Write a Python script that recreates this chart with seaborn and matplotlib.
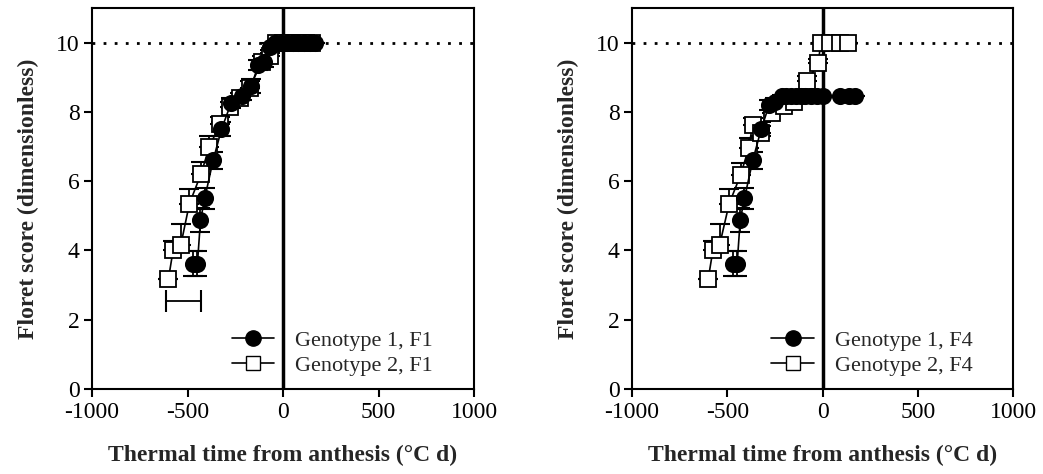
import numpy as np
import pandas as pd
import matplotlib
matplotlib.use("Agg")
import matplotlib.pyplot as plt
from matplotlib.lines import Line2D
import seaborn as sns

# ---------------- data ----------------
# Left panel, Genotype 1 (F1)
g1_f1_x = [-470, -448, -432, -410, -366, -322, -272, -215, -165, -130, -100, -68,
           -40, -10, 20, 50, 80, 110, 140, 165]
g1_f1_y = [3.62, 3.62, 4.87, 5.5, 6.6, 7.5, 8.25, 8.45, 8.75, 9.35, 9.45, 9.88,
           10, 10, 10, 10, 10, 10, 10, 10]
g1_f1_err = [0.35, 0.35, 0.35, 0.3, 0.25, 0.2, 0.15, 0.1, 0.2, 0.15, 0.15, 0.1,
             0, 0, 0, 0, 0, 0, 0, 0]
# Left panel, Genotype 2 (F1)
g2_f1_x = [-600, -575, -535, -490, -430, -385, -330, -280, -225, -175, -110, -70,
           -35, 0, 30, 60, 90, 120, 150]
g2_f1_y = [3.17, 4.02, 4.16, 5.35, 6.2, 7.0, 7.65, 8.15, 8.4, 8.7, 9.45, 9.6,
           10, 10, 10, 10, 10, 10, 10]
g2_f1_err = [0, 0.25, 0.6, 0.42, 0.35, 0.3, 0.2, 0.15, 0.15, 0.2, 0.15, 0.1,
             0, 0, 0, 0, 0, 0, 0]
# Representative horizontal error bar (thermal time) in left panel
hbar_x = [-521]
hbar_y = [2.55]
hbar_err = [90]

# Right panel, Genotype 1 (F4)
g1_f4_x = [-470, -448, -432, -410, -366, -322, -280, -250, -215, -190, -165, -140,
           -115, -90, -60, -30, 0, 90, 140, 170]
g1_f4_y = [3.62, 3.62, 4.87, 5.5, 6.6, 7.5, 8.2, 8.3, 8.45, 8.45, 8.45, 8.45,
           8.45, 8.45, 8.45, 8.45, 8.45, 8.45, 8.45, 8.45]
g1_f4_err = [0.35, 0.35, 0.35, 0.3, 0.25, 0.2, 0.15, 0.1, 0.05, 0.05, 0.05, 0.05,
             0.05, 0.05, 0.05, 0.05, 0, 0, 0, 0]
# Right panel, Genotype 2 (F4)
g2_f4_x = [-600, -575, -540, -490, -430, -387, -367, -325, -263, -204, -150, -80,
           -21, -10, 40, 90, 135]
g2_f4_y = [3.17, 4.02, 4.16, 5.35, 6.18, 6.96, 7.63, 7.4, 7.97, 8.16, 8.3, 8.88,
           9.42, 10, 10, 10, 10]
g2_f4_err = [0, 0.25, 0.6, 0.42, 0.35, 0.3, 0.2, 0.2, 0.15, 0.15, 0.1, 0.15,
             0.1, 0, 0, 0, 0]

x_ticks = [-1000, -500, 0, 500, 1000]
y_ticks = [0, 2, 4, 6, 8, 10]
legend_left = ["Genotype 1, F1", "Genotype 2, F1"]
legend_right = ["Genotype 1, F4", "Genotype 2, F4"]
x_label = "Thermal time from anthesis (°C d)"
y_label = "Floret score (dimensionless)"

# ---------------- style ----------------
sns.set_style("ticks")
plt.rcParams["font.family"] = ["Liberation Serif", "DejaVu Serif"]
plt.rcParams["axes.linewidth"] = 1.5

fig = plt.figure(figsize=(10.43, 4.74), dpi=100)
ax1 = fig.add_axes([92 / 1043, 85 / 474, 382 / 1043, 381 / 474])
ax2 = fig.add_axes([632 / 1043, 85 / 474, 381 / 1043, 381 / 474])

MS = 11


def draw_series(ax, x, y, err, marker, filled, upper_only=False):
    df = pd.DataFrame({"x": x, "y": y})
    sns.lineplot(data=df, x="x", y="y", ax=ax, sort=False, estimator=None,
                 color="black", linewidth=1.2, marker=marker, markersize=MS,
                 markerfacecolor="black" if filled else "white",
                 markeredgecolor="black", markeredgewidth=1.3, zorder=3)
    err = np.asarray(err)
    if upper_only:
        yerr = [np.zeros_like(err), err]
    else:
        yerr = err
    ax.errorbar(x, y, yerr=yerr, fmt="none", ecolor="black", elinewidth=1.3,
                capsize=7, capthick=1.5, zorder=2)


def style_axes(ax, labels):
    ax.axhline(10, color="black", linestyle=(0, (1, 3)), linewidth=2.0, zorder=1)
    ax.axvline(0, color="black", linewidth=2.5, zorder=1)
    ax.set_xlim(-1000, 1000)
    ax.set_ylim(0, 11)
    ax.set_xticks(x_ticks)
    ax.set_yticks(y_ticks)
    ax.set_xticklabels([str(t) for t in x_ticks])
    ax.tick_params(axis="both", direction="out", length=6, width=1.5,
                   labelsize=17, pad=3, colors="black")
    for s in ax.spines.values():
        s.set_visible(True)
        s.set_linewidth(1.5)
        s.set_color("black")
    ax.set_xlabel(x_label, fontsize=17, fontweight="bold", labelpad=16)
    ax.set_ylabel(y_label, fontsize=17, fontweight="bold", labelpad=12)
    handles = [
        Line2D([], [], color="black", linewidth=1.2, marker="o", markersize=MS,
               markerfacecolor="black", markeredgecolor="black"),
        Line2D([], [], color="black", linewidth=1.2, marker="s", markersize=MS - 1,
               markerfacecolor="white", markeredgecolor="black"),
    ]
    ax.legend(handles, labels, loc="lower left", frameon=False, fontsize=16,
              handlelength=1.9, handletextpad=0.95, labelspacing=0.2,
              borderpad=0, borderaxespad=0, bbox_to_anchor=(0.366, 0.035))


draw_series(ax1, g2_f1_x, g2_f1_y, g2_f1_err, "s", False, upper_only=True)
draw_series(ax1, g1_f1_x, g1_f1_y, g1_f1_err, "o", True)
ax1.errorbar(hbar_x, hbar_y, xerr=hbar_err, fmt="none", ecolor="black",
             elinewidth=1.3, capsize=8, capthick=1.5)
style_axes(ax1, legend_left)

draw_series(ax2, g2_f4_x, g2_f4_y, g2_f4_err, "s", False, upper_only=True)
draw_series(ax2, g1_f4_x, g1_f4_y, g1_f4_err, "o", True)
style_axes(ax2, legend_right)

fig.savefig("out.png", dpi=100)
